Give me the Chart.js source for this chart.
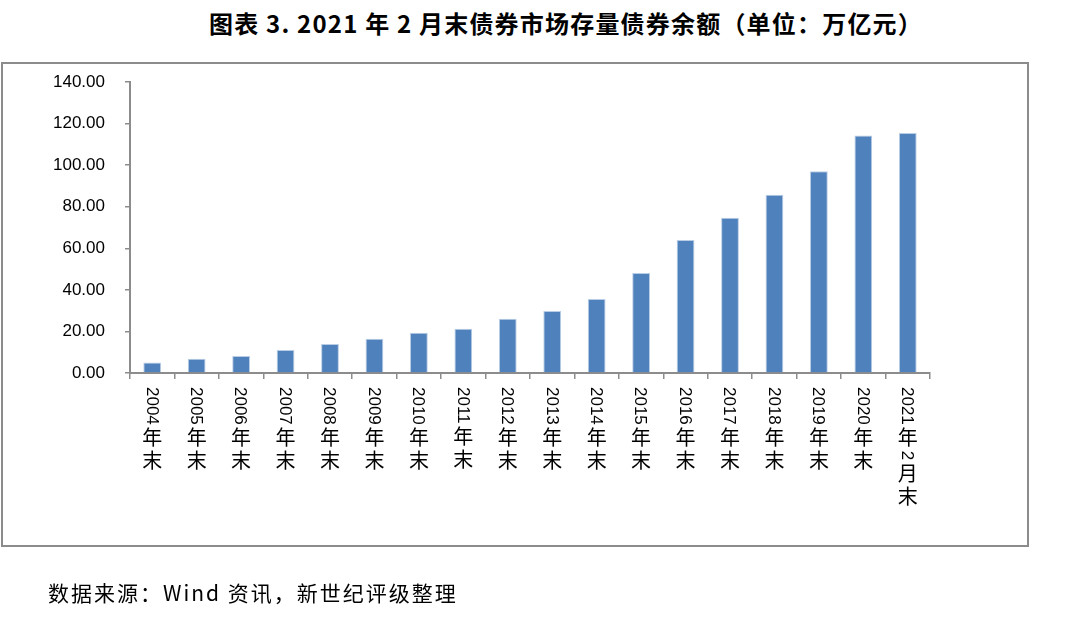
<!DOCTYPE html>
<html>
<head>
<meta charset="utf-8">
<script src="https://cdn.jsdelivr.net/npm/chart.js@4/dist/chart.umd.min.js"></script>
<style>
    html, body { margin: 0; padding: 0; background: #fff; }
    #page { position: relative; width: 1080px; height: 640px; overflow: hidden; }
    #title {
        position: absolute; left: 0; width: 1132px; top: 5px;
        text-align: center; font: bold 24px "Noto Sans CJK SC", sans-serif; color: #000;
        letter-spacing: 1.2px;
    }
    #box {
        position: absolute; left: 1px; top: 62px; width: 1024px; height: 481px;
        border: 2px solid #8c8c8c;
    }
    #source {
        position: absolute; left: 48px; top: 577px;
        font: 21px "Noto Sans CJK SC", sans-serif; color: #000;
        letter-spacing: 2px;
    }
    canvas { position: absolute; left: 0; top: 0; }
</style>
</head>
<body>
<div id="page">
    <div id="title">图表 3. 2021 年 2 月末债券市场存量债券余额（单位：万亿元）</div>
    <div id="box"></div>
    <canvas id="chart" width="1080" height="640"></canvas>
    <div id="source">数据来源：Wind 资讯，新世纪评级整理</div>
</div>

<script>
// ── DATA ─────────────────────────────────────────────

var categories = [
    '2004年末', '2005年末', '2006年末', '2007年末', '2008年末', '2009年末',
    '2010年末', '2011年末', '2012年末', '2013年末', '2014年末', '2015年末',
    '2016年末', '2017年末', '2018年末', '2019年末', '2020年末', '2021年2月末'
];

// 存量债券余额（万亿元）
var balance = [
    5.1, 6.8, 8.2, 11.1, 14.0, 16.5,
    19.4, 21.3, 26.1, 29.8, 35.6, 48.1,
    64.0, 74.7, 85.7, 97.1, 114.3, 115.5
];

var yTicks = [0, 20, 40, 60, 80, 100, 120, 140];

// ── VERTICAL X LABELS (digits turned, CJK upright) ───

var verticalLabels = {
    id: 'verticalLabels',
    afterDraw: function(chart) {
        var ctx = chart.ctx;
        var xs  = chart.scales.x;

        ctx.save();
        ctx.fillStyle = '#000';

        for (var i = 0; i < categories.length; i++) {
            var x = xs.getPixelForTick(i);
            var y = 387;
            var label = categories[i];
            var run = '';

            for (var j = 0; j <= label.length; j++) {
                var ch = label.charAt(j);
                var cjk = ch && ch.charCodeAt(0) > 0x2e80;

                if (ch && !cjk) {
                    run += ch;
                    continue;
                }

                // Flush any digit run, turned 90° clockwise
                if (run) {
                    ctx.font = '17px "Liberation Sans", Arial, sans-serif';
                    var w = ctx.measureText(run).width;
                    ctx.save();
                    ctx.translate(x, y);
                    ctx.rotate(Math.PI / 2);
                    ctx.textAlign = 'left';
                    ctx.textBaseline = 'middle';
                    ctx.fillText(run, 0, 1);
                    ctx.restore();
                    y += w + 3;
                    run = '';
                }

                if (cjk) {
                    ctx.font = '20px "Noto Sans CJK SC", sans-serif';
                    ctx.textAlign = 'center';
                    ctx.textBaseline = 'middle';
                    ctx.fillText(ch, x, y + 10);
                    y += 23;
                }
            }
        }
        ctx.restore();
    }
};

// ── CHART ────────────────────────────────────────────

var ctx = document.getElementById('chart').getContext('2d');

var chart = new Chart(ctx, {
    type: 'bar',
    data: {
        labels: categories,
        datasets: [{
            label: '存量债券余额',
            data: balance,
            backgroundColor: '#4f81bd',
            borderColor: '#b9cde5',
            borderWidth: { top: 1, left: 1, right: 1, bottom: 0 },
            barPercentage: 0.4,
            categoryPercentage: 1.0
        }]
    },
    options: {
        responsive: false,
        animation: false,
        layout: {
            padding: { left: 0, right: 150, top: 82, bottom: 0 }
        },
        plugins: {
            legend: { display: false },
            title: { display: false },
            tooltip: { enabled: false }
        },
        scales: {
            x: {
                offset: true,
                grid: {
                    offset: true,
                    drawOnChartArea: false,
                    drawTicks: true,
                    tickLength: 6,
                    color: '#8c8c8c',
                    lineWidth: 1.5
                },
                border: { display: true, color: '#8c8c8c', width: 2 },
                ticks: { display: false },
                afterFit: function(scale) { scale.height = 267; }
            },
            y: {
                min: 0,
                max: 140,
                afterBuildTicks: function(scale) {
                    scale.ticks = yTicks.map(function(v) { return { value: v }; });
                },
                grid: {
                    drawOnChartArea: false,
                    drawTicks: true,
                    tickLength: 5,
                    color: '#8c8c8c',
                    lineWidth: 1.5
                },
                border: { display: true, color: '#8c8c8c', width: 2 },
                ticks: {
                    padding: 20,
                    color: '#000',
                    font: { family: '"Liberation Sans", Arial, sans-serif', size: 17 },
                    callback: function(v) { return Number(v).toFixed(2); }
                },
                afterFit: function(scale) { scale.width = 130; }
            }
        }
    },
    plugins: [verticalLabels]
});
</script>
</body>
</html>
